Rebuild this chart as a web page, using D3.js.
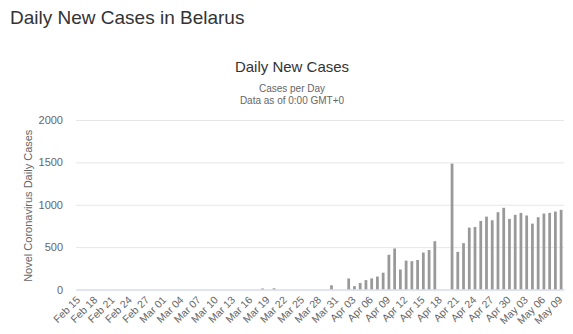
<!DOCTYPE html>
<html>
<head>
<meta charset="utf-8">
<script src="https://cdn.jsdelivr.net/npm/d3@7"></script>
<style>
	body { margin: 0; background: #fff; }
	svg { display: block; font-family: "Liberation Sans", Arial, sans-serif; }
</style>
</head>
<body>
<div id="chart"></div>
<script>
/*jshint esversion: 9 */

// days shown on the x axis, Feb 15 .. May 09 2020
var firstDay = new Date(2020, 1, 15);
var lastDay = new Date(2020, 4, 9);
var formatDay = d3.timeFormat("%b %d");
var categories = d3.timeDay.range(firstDay, d3.timeDay.offset(lastDay, 1)).map(formatDay);

// new cases per day
var febCases = [0, 0, 0, 0, 0, 0, 0, 0, 0, 0, 0, 0, 0, 0, 0];
var marCases = [0, 0, 0, 0, 0, 0, 0, 0, 0, 0,
	0, 0, 0, 0, 0, 0, 0, 12, 0, 14,
	0, 0, 0, 0, 0, 0, 0, 0, 0, 50, 0];
var aprCases = [0, 130, 40, 77, 111, 131, 153, 198, 410, 484,
	236, 341, 334, 348, 436, 466, 570, 0, 0, 1485,
	444, 547, 730, 738, 809, 860, 817, 912, 964, 833];
var mayCases = [881, 904, 873, 777, 853, 896, 904, 920, 940];
var dailyCases = febCases.concat(marCases, aprCases, mayCases);

var yTicks = [0, 500, 1000, 1500, 2000];

var width = 573;
var height = 334;
var plot = { left: 76, right: 564, top: 120, bottom: 289.5 };

function onload () {
	var svg = d3.select('#chart')
		.append('svg')
		.attr('width', width)
		.attr('height', height);

	svg.append('text')
		.attr('x', 10)
		.attr('y', 23.5)
		.style('font-size', '19px')
		.style('fill', '#333')
		.text('Daily New Cases in Belarus');

	svg.append('text')
		.attr('x', 292)
		.attr('y', 72)
		.attr('text-anchor', 'middle')
		.style('font-size', '15px')
		.style('fill', '#333')
		.text('Daily New Cases');

	svg.append('text')
		.attr('x', 292)
		.attr('y', 92)
		.attr('text-anchor', 'middle')
		.style('font-size', '10px')
		.style('fill', '#666')
		.text('Cases per Day');

	svg.append('text')
		.attr('x', 292)
		.attr('y', 104)
		.attr('text-anchor', 'middle')
		.style('font-size', '10px')
		.style('fill', '#666')
		.text('Data as of 0:00 GMT+0');

	var x = d3.scaleBand()
		.domain(categories)
		.range([plot.left, plot.right]);

	var y = d3.scaleLinear()
		.domain([0, 2000])
		.range([plot.bottom, plot.top]);

	// grid + y labels
	var yAxis = d3.axisLeft(y)
		.tickValues(yTicks)
		.tickFormat(d3.format('d'))
		.tickSize(-(plot.right - plot.left))
		.tickPadding(13);

	var gy = svg.append('g')
		.attr('transform', 'translate(' + plot.left + ',0)')
		.call(yAxis);
	gy.select('.domain').remove();
	gy.selectAll('line').style('stroke', '#e6e6e6');
	gy.selectAll('text')
		.style('font-size', '11px')
		.style('fill', '#666');

	svg.append('text')
		.attr('transform', 'translate(32,' + ((plot.top + plot.bottom) / 2 + 1) + ') rotate(-90)')
		.attr('text-anchor', 'middle')
		.style('font-size', '11px')
		.style('fill', '#666')
		.text('Novel Coronavirus Daily Cases');

	// bars
	var barWidth = x.bandwidth() * 0.48;
	svg.append('g')
		.selectAll('rect')
		.data(dailyCases)
		.enter()
		.append('rect')
		.attr('x', (d, i) => x(categories[i]) + (x.bandwidth() - barWidth) / 2)
		.attr('y', d => y(d))
		.attr('width', barWidth)
		.attr('height', d => y(0) - y(d))
		.style('fill', '#999');

	// x axis, label every third day
	var xAxis = d3.axisBottom(x)
		.tickValues(categories.filter((d, i) => i % 3 === 0))
		.tickSize(0);

	var gx = svg.append('g')
		.attr('transform', 'translate(0,' + plot.bottom + ')')
		.call(xAxis);
	gx.select('.domain')
		.style('stroke', '#ccd6eb');
	gx.selectAll('text')
		.attr('text-anchor', 'end')
		.attr('y', 0)
		.attr('dy', null)
		.attr('transform', 'translate(2,11) rotate(-45)')
		.style('font-size', '10.5px')
		.style('fill', '#666');
}

onload();
</script>
</body>
</html>
